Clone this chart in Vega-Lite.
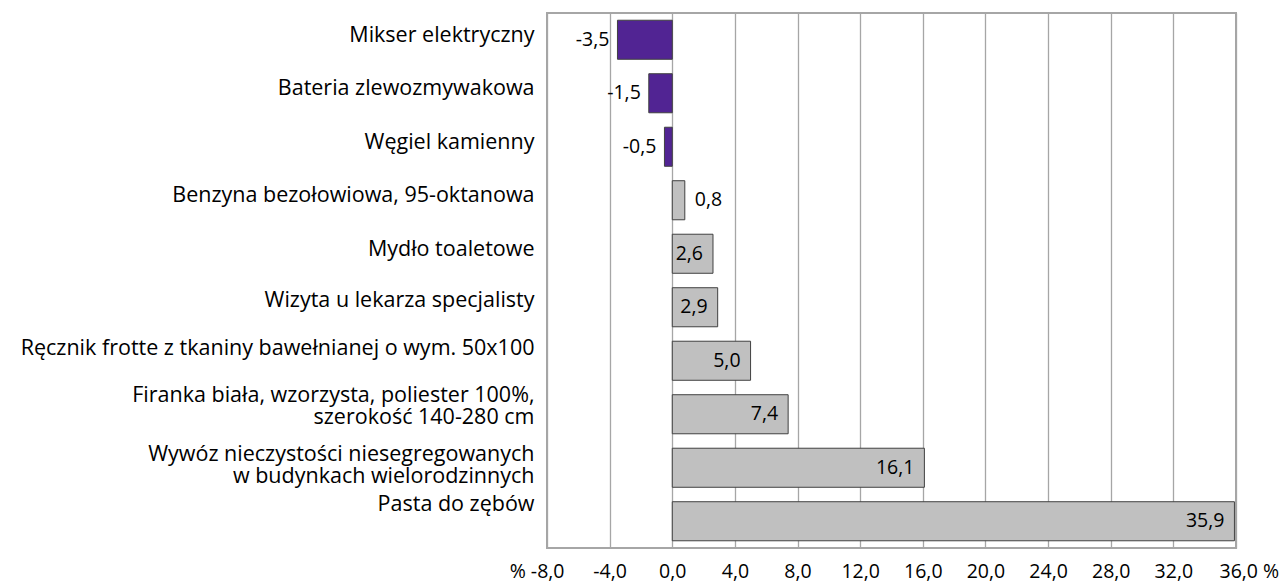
{
  "$schema": "https://vega.github.io/schema/vega-lite/v6.json",
  "autosize": "none",
  "width": 689,
  "height": 535,
  "padding": {"left": 547, "top": 13, "right": 45, "bottom": 36},
  "background": "white",
  "config": {
    "font": "Open Sans",
    "locale": {"number": {"decimal": ",", "thousands": " ", "grouping": [3], "currency": ["", " zł"], "minus": "-"}},
    "view": {"stroke": "#a6a6a6", "strokeWidth": 2}
  },
  "data": {
    "values": [
      {"item": "Mikser elektryczny", "v": -3.5},
      {"item": "Bateria zlewozmywakowa", "v": -1.5},
      {"item": "Węgiel kamienny", "v": -0.5},
      {"item": "Benzyna bezołowiowa, 95-oktanowa", "v": 0.8},
      {"item": "Mydło toaletowe", "v": 2.6},
      {"item": "Wizyta u lekarza specjalisty", "v": 2.9},
      {"item": "Ręcznik frotte z tkaniny bawełnianej o wym. 50x100", "v": 5.0},
      {"item": "Firanka biała, wzorzysta, poliester 100%,|szerokość 140-280 cm", "v": 7.4},
      {"item": "Wywóz nieczystości niesegregowanych|w budynkach wielorodzinnych", "v": 16.1},
      {"item": "Pasta do zębów", "v": 35.9}
    ]
  },
  "encoding": {
    "y": {
      "field": "item",
      "type": "nominal",
      "sort": null,
      "scale": {"paddingInner": 0.27, "paddingOuter": 0.135},
      "axis": {
        "title": null,
        "ticks": false,
        "domain": false,
        "labelPadding": 13,
        "labelFontSize": 21.5,
        "labelColor": "#000000",
        "labelLimit": 600,
        "labelLineHeight": 22,
        "labelOffset": {
          "condition": [
            {"test": "indexof(datum.value, 'Firanka') >= 0", "value": -18},
            {"test": "indexof(datum.value, 'Wywóz') >= 0", "value": -13},
            {"test": "indexof(datum.value, 'Pasta') >= 0", "value": -16},
            {"test": "indexof(datum.value, 'Ręcznik') >= 0", "value": -12},
            {"test": "indexof(datum.value, 'Wizyta') >= 0", "value": -6}
          ],
          "value": -4
        },
        "labelExpr": "split(datum.value, '|')"
      }
    },
    "x": {
      "field": "v",
      "type": "quantitative",
      "scale": {"domain": [-8, 36], "nice": false, "zero": false},
      "axis": {
        "title": null,
        "values": [-8, -4, 0, 4, 8, 12, 16, 20, 24, 28, 32, 36],
        "format": ".1f",
        "labelExpr": "datum.value == -8 ? '% ' + datum.label : (datum.value == 36 ? datum.label + ' %' : datum.label)",
        "labelAlign": {"condition": [{"test": "datum.value == -8", "value": "right"}, {"test": "datum.value == 36", "value": "left"}], "value": "center"},
        "labelOffset": {"condition": [{"test": "datum.value == -8", "value": 17}, {"test": "datum.value == 36", "value": -17}], "value": 0},
        "labelFontSize": 19.5,
        "labelColor": "#000000",
        "labelPadding": 14,
        "labelFlush": false,
        "labelOverlap": false,
        "ticks": false,
        "domain": false,
        "grid": true,
        "gridColor": "#a6a6a6",
        "gridWidth": 1.3,
        "gridOpacity": 1
      }
    }
  },
  "layer": [
    {
      "mark": {"type": "bar", "stroke": "#404040", "strokeWidth": 1},
      "encoding": {
        "color": {
          "condition": {"test": "datum.v < 0", "value": "#512493"},
          "value": "#c0c0c0"
        }
      }
    },
    {
      "transform": [{"filter": "datum.v < 0"}],
      "mark": {"type": "text", "align": "right", "dx": -8, "fontSize": 19.5, "color": "#000000"},
      "encoding": {"text": {"field": "v", "type": "quantitative", "format": ".1f"}}
    },
    {
      "transform": [{"filter": "datum.v >= 0 && datum.v < 1.5"}],
      "mark": {"type": "text", "align": "left", "dx": 10, "fontSize": 19.5, "color": "#000000"},
      "encoding": {"text": {"field": "v", "type": "quantitative", "format": ".1f"}}
    },
    {
      "transform": [{"filter": "datum.v >= 1.5"}],
      "mark": {"type": "text", "align": "right", "dx": -10, "fontSize": 19.5, "color": "#000000"},
      "encoding": {"text": {"field": "v", "type": "quantitative", "format": ".1f"}}
    }
  ]
}
